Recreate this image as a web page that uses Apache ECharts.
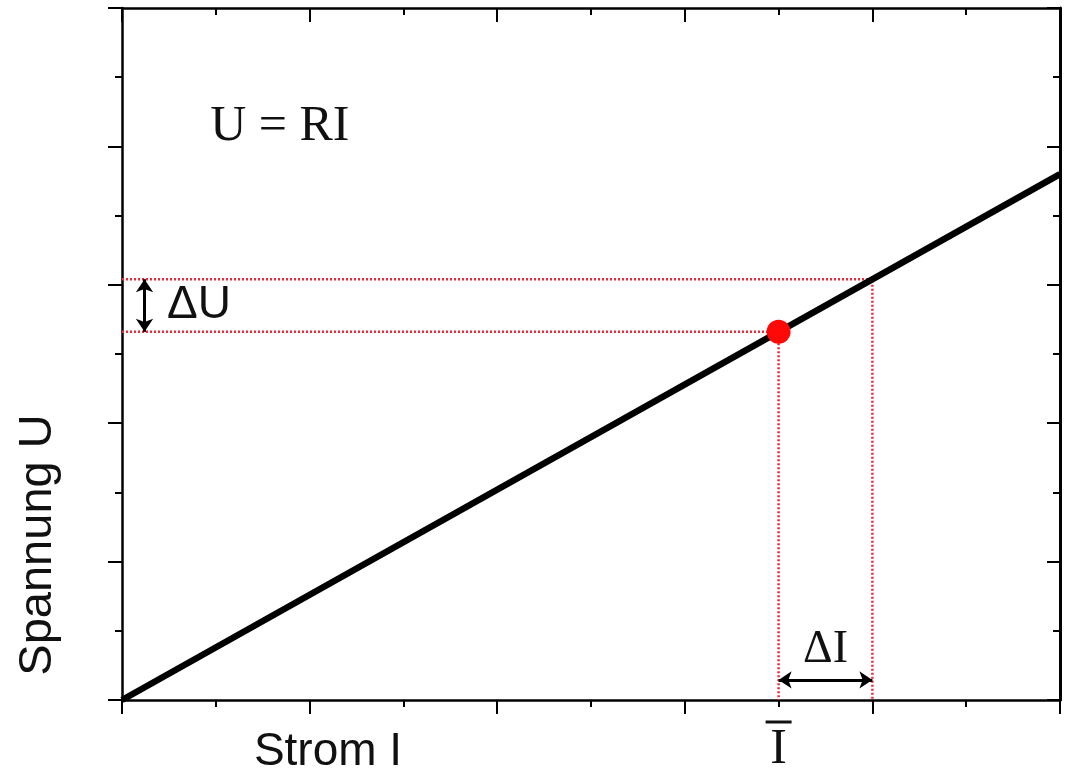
<!DOCTYPE html>
<html>
<head>
<meta charset="utf-8">
<script src="https://cdn.jsdelivr.net/npm/echarts@6/dist/echarts.min.js"></script>
<style>html,body{margin:0;padding:0;background:#fff;}#c{width:1067px;height:774px;}</style>
</head>
<body>
<div id="c"></div>
<script>
// Axis ranges (no numeric labels shown in the reference)
const xRange = [0, 5];
const yRange = [0, 5];
// Ohm's law line U = R I
const lineI = [0, 5];
const lineU = [0, 3.8];
// Mean current and its voltage
const meanI = [3.5];
const meanU = [2.66];
// Upper bound (I + ΔI, U + ΔU)
const upperI = [4.0];
const upperU = [3.04];
// Arrow positions
const dUArrowI = [0.12];
const dIArrowU = [0.145];

const chart = echarts.init(document.getElementById('c'), null, {renderer: 'canvas'});
const red = '#ee2a36';
const serif = '"Liberation Serif", "Times New Roman", serif';
const sans = '"Liberation Sans", Arial, sans-serif';

function axisCommon(extra) {
  return Object.assign({
    type: 'value', min: 0, max: 5, interval: 1,
    axisLine: {show: true, onZero: false, lineStyle: {color: '#000', width: 2.5}},
    axisLabel: {show: false},
    splitLine: {show: false},
    axisTick: {show: true, length: 14, lineStyle: {color: '#000', width: 2}},
    minorTick: {show: true, splitNumber: 2, length: 7, lineStyle: {color: '#000', width: 2}}
  }, extra);
}

const option = {
  animation: false,
  backgroundColor: '#fff',
  grid: {left: 122, right: 7, top: 8, bottom: 74},
  xAxis: [
    axisCommon({min: xRange[0], max: xRange[1], position: 'bottom'}),
    axisCommon({min: xRange[0], max: xRange[1], position: 'top',
      axisTick: {show: true, inside: true, length: 14, lineStyle: {color: '#000', width: 2}},
      minorTick: {show: true, splitNumber: 2, length: 7, lineStyle: {color: '#000', width: 2}}})
  ],
  yAxis: [
    axisCommon({min: yRange[0], max: yRange[1], position: 'left'}),
    axisCommon({min: yRange[0], max: yRange[1], position: 'right',
      axisLine: {show: true, onZero: false, lineStyle: {color: '#000', width: 3}},
      axisTick: {show: true, inside: true, length: 13, lineStyle: {color: '#000', width: 2}},
      minorTick: {show: true, splitNumber: 2, length: 7, lineStyle: {color: '#000', width: 2}}})
  ],
  series: [
    {
      type: 'line', name: 'guideMean', symbol: 'none', silent: true,
      lineStyle: {color: red, width: 2.5, type: [2, 2]},
      data: [[xRange[0], meanU[0]], [meanI[0], meanU[0]], [meanI[0], yRange[0]]], z: 2
    },
    {
      type: 'line', name: 'guideUpper', symbol: 'none', silent: true,
      lineStyle: {color: red, width: 2.5, type: [2, 2]},
      data: [[xRange[0], upperU[0]], [upperI[0], upperU[0]], [upperI[0], yRange[0]]], z: 2
    },
    {
      type: 'line', name: 'U=RI', symbol: 'none',
      lineStyle: {color: '#000', width: 6.5},
      data: lineI.map((v, i) => [v, lineU[i]]), z: 3,
      markLine: {
        silent: true, symbol: ['arrow', 'arrow'], symbolSize: [13, 13],
        label: {show: false},
        lineStyle: {color: '#000', width: 3, type: 'solid'},
        data: [
          [{coord: [dUArrowI[0], meanU[0]]}, {coord: [dUArrowI[0], upperU[0]]}],
          [{coord: [meanI[0], dIArrowU[0]]}, {coord: [upperI[0], dIArrowU[0]]}]
        ]
      }
    },
    {
      type: 'scatter', name: 'mean', symbol: 'circle', symbolSize: 24,
      itemStyle: {color: '#ff0808', opacity: 1},
      data: meanI.map((v, i) => [v, meanU[i]]), z: 4
    }
  ]
};
chart.setOption(option);

function px(p) { return chart.convertToPixel({xAxisIndex: 0, yAxisIndex: 0}, p); }
const pMean = px([meanI[0], 0]);
const pdI = px([(meanI[0] + upperI[0]) / 2, 0.36]);
const pdU = px([0.24, (meanU[0] + upperU[0]) / 2]);
const pEq = px([0.47, 4.12]);

chart.setOption({
  graphic: [
    {type: 'text', left: pEq[0], top: pEq[1] - 28, style: {text: 'U = RI', font: '50px ' + serif, fill: '#111'}},
    {type: 'text', x: pdU[0], y: pdU[1], style: {text: '\u0394U', font: '46px ' + sans, fill: '#111', align: 'left', verticalAlign: 'middle'}},
    {type: 'text', x: pdI[0], y: pdI[1], style: {text: '\u0394I', font: '46px ' + serif, fill: '#111', align: 'center', verticalAlign: 'middle'}},
    {type: 'text', x: pMean[0], y: 750, style: {text: 'I', font: '50px ' + serif, fill: '#111', align: 'center', verticalAlign: 'middle'}},
    {type: 'line', shape: {x1: pMean[0] - 13, y1: 722, x2: pMean[0] + 13, y2: 722}, style: {stroke: '#111', lineWidth: 3}},
    {type: 'text', x: 328, y: 752, style: {text: 'Strom I', font: '46px ' + sans, fill: '#111', align: 'center', verticalAlign: 'middle'}},
    {type: 'text', x: 38, y: 545, rotation: Math.PI / 2, style: {text: 'Spannung U', font: '47px ' + sans, fill: '#111', align: 'center', verticalAlign: 'middle'}}
  ]
});
</script>
</body>
</html>
